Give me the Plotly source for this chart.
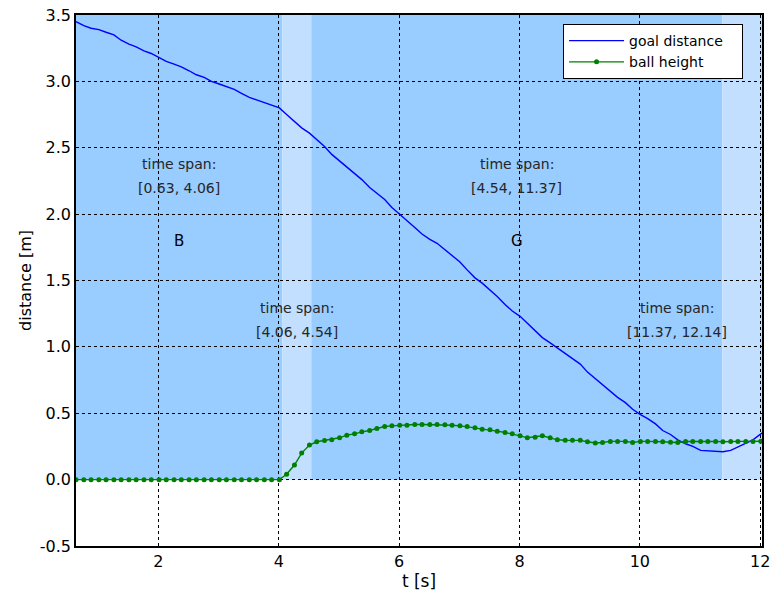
import plotly.graph_objects as go

# sample times [s]
t = [0.63, 0.76, 0.88, 1.01, 1.13, 1.26, 1.38, 1.51,
     1.63, 1.76, 1.88, 2.01, 2.13, 2.26, 2.38, 2.51,
     2.63, 2.76, 2.88, 3.01, 3.13, 3.26, 3.38, 3.51,
     3.63, 3.76, 3.88, 4.01, 4.13, 4.26, 4.38, 4.51,
     4.63, 4.76, 4.88, 5.01, 5.13, 5.26, 5.38, 5.51,
     5.63, 5.76, 5.88, 6.01, 6.13, 6.26, 6.38, 6.51,
     6.63, 6.76, 6.88, 7.01, 7.13, 7.26, 7.38, 7.51,
     7.63, 7.76, 7.88, 8.01, 8.13, 8.26, 8.38, 8.51,
     8.63, 8.76, 8.88, 9.01, 9.13, 9.26, 9.38, 9.51,
     9.63, 9.76, 9.88, 10.01, 10.13, 10.26, 10.38, 10.51,
     10.63, 10.76, 10.88, 11.01, 11.13, 11.26, 11.38, 11.51,
     11.63, 11.76, 11.88, 12.01, 12.13]

goal_distance = [3.45, 3.42, 3.40, 3.39, 3.37, 3.35, 3.31, 3.28,
                 3.26, 3.23, 3.21, 3.18, 3.15, 3.13, 3.11, 3.08,
                 3.05, 3.03, 3.00, 2.98, 2.96, 2.94, 2.91, 2.88,
                 2.86, 2.84, 2.82, 2.80, 2.75, 2.70, 2.65, 2.61,
                 2.56, 2.51, 2.45, 2.40, 2.36, 2.31, 2.26, 2.20,
                 2.16, 2.11, 2.05, 2.00, 1.95, 1.90, 1.85, 1.81,
                 1.78, 1.73, 1.69, 1.64, 1.58, 1.52, 1.48, 1.43,
                 1.38, 1.32, 1.27, 1.23, 1.18, 1.12, 1.07, 1.03,
                 0.99, 0.95, 0.91, 0.87, 0.81, 0.76, 0.71, 0.66,
                 0.62, 0.58, 0.53, 0.49, 0.46, 0.42, 0.37, 0.34,
                 0.30, 0.27, 0.25, 0.22, 0.215, 0.21, 0.21, 0.22,
                 0.245, 0.275, 0.30, 0.345, 0.38]

ball_height = [0.0, 0.0, 0.0, 0.0, 0.0, 0.0, 0.0, 0.0,
               0.0, 0.0, 0.0, 0.0, 0.0, 0.0, 0.0, 0.0,
               0.0, 0.0, 0.0, 0.0, 0.0, 0.0, 0.0, 0.0,
               0.0, 0.0, 0.0, 0.0, 0.04, 0.11, 0.20, 0.26,
               0.285, 0.295, 0.30, 0.315, 0.335, 0.345, 0.36, 0.37,
               0.385, 0.40, 0.405, 0.41, 0.41, 0.415, 0.415, 0.415,
               0.415, 0.414, 0.41, 0.405, 0.40, 0.39, 0.38, 0.375,
               0.365, 0.355, 0.345, 0.33, 0.315, 0.32, 0.33, 0.315,
               0.30, 0.297, 0.297, 0.296, 0.285, 0.276, 0.28, 0.288,
               0.288, 0.288, 0.28, 0.288, 0.288, 0.288, 0.285, 0.282,
               0.28, 0.287, 0.288, 0.288, 0.288, 0.288, 0.285, 0.288,
               0.288, 0.288, 0.288, 0.29, 0.29]

span_starts = [0.63, 4.06, 4.54, 11.37]
span_ends = [4.06, 4.54, 11.37, 12.14]
span_colors = ["#99ccff", "#c2dfff", "#99ccff", "#c2dfff"]
span_label_x = [2.345, 4.30, 7.955, 10.61]
span_label_y = [2.38, 1.29, 2.38, 1.29]
span_letters = ["B", "", "G", ""]
letter_y = 1.80

x_ticks = [2, 4, 6, 8, 10, 12]
y_ticks = [-0.5, 0.0, 0.5, 1.0, 1.5, 2.0, 2.5, 3.0, 3.5]
y_tick_text = ["-0.5", "0.0", "0.5", "1.0", "1.5", "2.0", "2.5", "3.0", "3.5"]

FONT = "DejaVu Sans"
PAD = "\u00a0\u00a0\u00a0"

fig = go.Figure()
fig.add_trace(go.Scatter(x=t, y=goal_distance, mode="lines", name="goal distance" + PAD,
                         line=dict(color="#0000ff", width=1.4)))
fig.add_trace(go.Scatter(x=t, y=ball_height, mode="lines+markers", name="ball height" + PAD,
                         line=dict(color="#008000", width=1.4),
                         marker=dict(color="#008000", size=5)))

for s, e, c in zip(span_starts, span_ends, span_colors):
    fig.add_shape(type="rect", xref="x", yref="y", x0=s, x1=e, y0=0, y1=3.5,
                  fillcolor=c, line=dict(width=0), layer="below")

for s, e, lx, ly, letter in zip(span_starts, span_ends, span_label_x, span_label_y, span_letters):
    fig.add_annotation(x=lx, y=ly, text="time span:", showarrow=False,
                       font=dict(family=FONT, size=14, color="#262626"))
    fig.add_annotation(x=lx, y=ly - 0.18, text=f"[{s:.2f}, {e:.2f}]", showarrow=False,
                       font=dict(family=FONT, size=14, color="#262626"))
    if letter:
        fig.add_annotation(x=lx, y=letter_y, text=letter, showarrow=False,
                           font=dict(family=FONT, size=15, color="#000000"))

axis_common = dict(showline=True, linecolor="#000000", linewidth=1.5, mirror=True,
                   showgrid=True, gridcolor="#000000", gridwidth=1, griddash="dot",
                   zeroline=False, ticks="", automargin=False,
                   tickfont=dict(family=FONT, size=16, color="#000000"))

fig.update_xaxes(range=[0.63, 12.03], tickvals=x_ticks, ticktext=[str(v) for v in x_ticks],
                 title=dict(text="t [s]", font=dict(family=FONT, size=17, color="#000000"), standoff=0),
                 **axis_common)
fig.update_yaxes(range=[-0.5, 3.5], tickvals=y_ticks, ticktext=y_tick_text,
                 title=dict(text="distance [m]", font=dict(family=FONT, size=16, color="#000000"), standoff=4),
                 **axis_common)

fig.update_layout(
    width=771, height=593,
    margin=dict(l=76, r=9, t=15, b=47),
    paper_bgcolor="#ffffff", plot_bgcolor="#ffffff",
    font=dict(family=FONT),
    showlegend=True,
    legend=dict(x=0.71, y=0.983, xanchor="left", yanchor="top",
                bgcolor="#ffffff", bordercolor="#000000", borderwidth=1,
                font=dict(family=FONT, size=14, color="#000000"),
                tracegroupgap=0, itemwidth=55),
)

# remove the default 8px page margin so the figure fills the window exactly
fig.write_html("out.html", config={"displayModeBar": False},
               post_script="document.body.style.margin='0px';")
